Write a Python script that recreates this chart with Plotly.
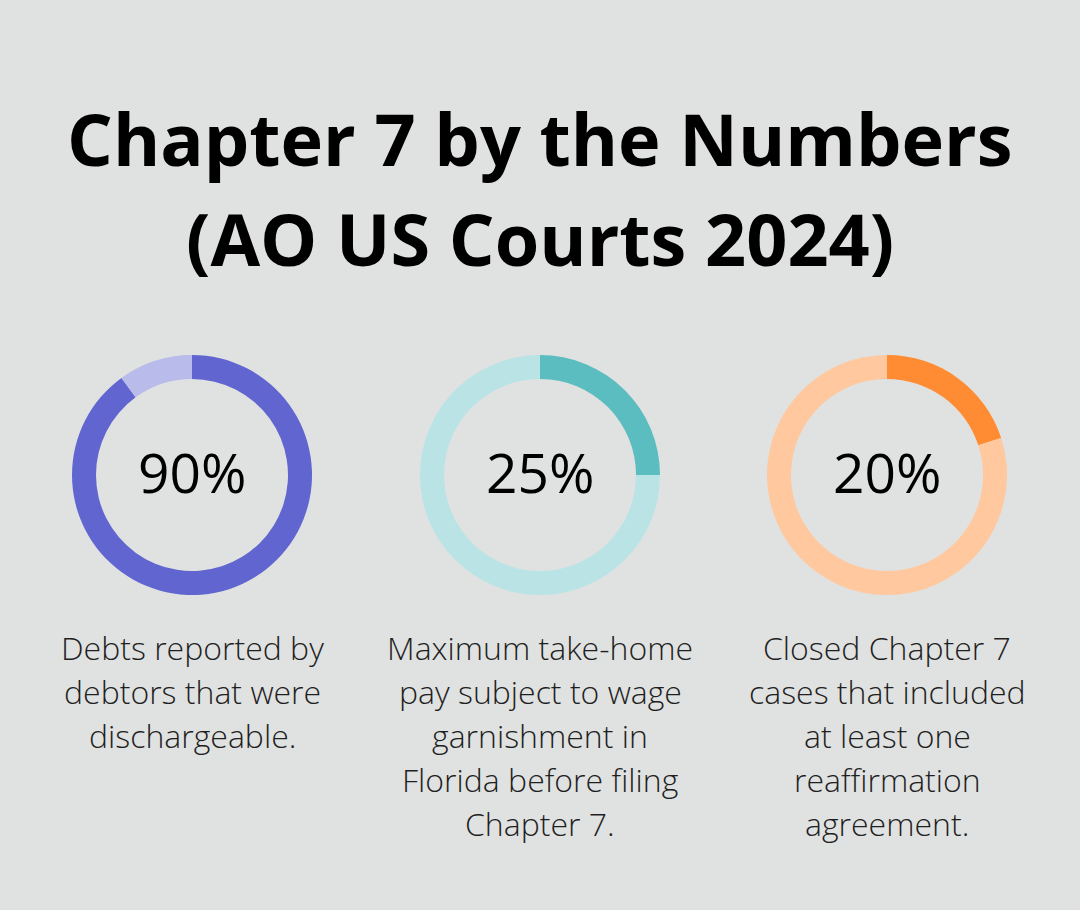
import plotly.graph_objects as go

title_lines = ["Chapter 7 by the Numbers", "(AO US Courts 2024)"]
percent_values = [90, 25, 20]
center_labels = ["90%", "25%", "20%"]
captions = [
    ["Debts reported by", "debtors that were", "dischargeable."],
    ["Maximum take-home", "pay subject to wage", "garnishment in", "Florida before filing", "Chapter 7."],
    ["Closed Chapter 7", "cases that included", "at least one", "reaffirmation", "agreement."],
]
main_colors = ["#6065cf", "#5bbdbf", "#ff8c33"]
light_colors = ["#b9bbeb", "#b9e3e5", "#ffc89e"]

W, H = 1080, 910
BG = "#e0e2e1"
centers_x = [192, 540, 887]
center_y = 475
R = 120
TXT = "#1f1f1f"

fig = go.Figure()
for i, v in enumerate(percent_values):
    cx = centers_x[i]
    fig.add_trace(go.Pie(
        values=[v, 100 - v],
        labels=["value", "rest"],
        hole=0.8,
        sort=False,
        direction="clockwise",
        rotation=0,
        marker=dict(colors=[main_colors[i], light_colors[i]], line=dict(width=0)),
        textinfo="none",
        hoverinfo="skip",
        showlegend=False,
        domain=dict(x=[(cx - R) / W, (cx + R) / W],
                    y=[(H - center_y - R) / H, (H - center_y + R) / H]),
    ))
    fig.add_annotation(x=cx / W, y=1 - 471 / H, xref="paper", yref="paper",
                       text=center_labels[i], showarrow=False,
                       xanchor="center", yanchor="middle",
                       font=dict(family="Open Sans", size=55, color="#000000", weight=500))
    for j, line in enumerate(captions[i]):
        ly = 647 + j * 44
        fig.add_annotation(x=cx / W, y=1 - ly / H, xref="paper", yref="paper",
                           text=line, showarrow=False,
                           xanchor="center", yanchor="middle",
                           font=dict(family="Open Sans", size=32, color=TXT, weight=300))

for k, line in enumerate(title_lines):
    ty = 138 + k * 100
    fig.add_annotation(x=0.5, y=1 - ty / H, xref="paper", yref="paper",
                       text=line, showarrow=False,
                       xanchor="center", yanchor="middle",
                       font=dict(family="Open Sans", size=72, color="#000000", weight=700))

fig.update_layout(
    width=W, height=H,
    margin=dict(l=0, r=0, t=0, b=0),
    paper_bgcolor=BG, plot_bgcolor=BG,
)
fig.write_html("out.html", config={"displayModeBar": False},
               post_script="document.body.style.margin='0';")
